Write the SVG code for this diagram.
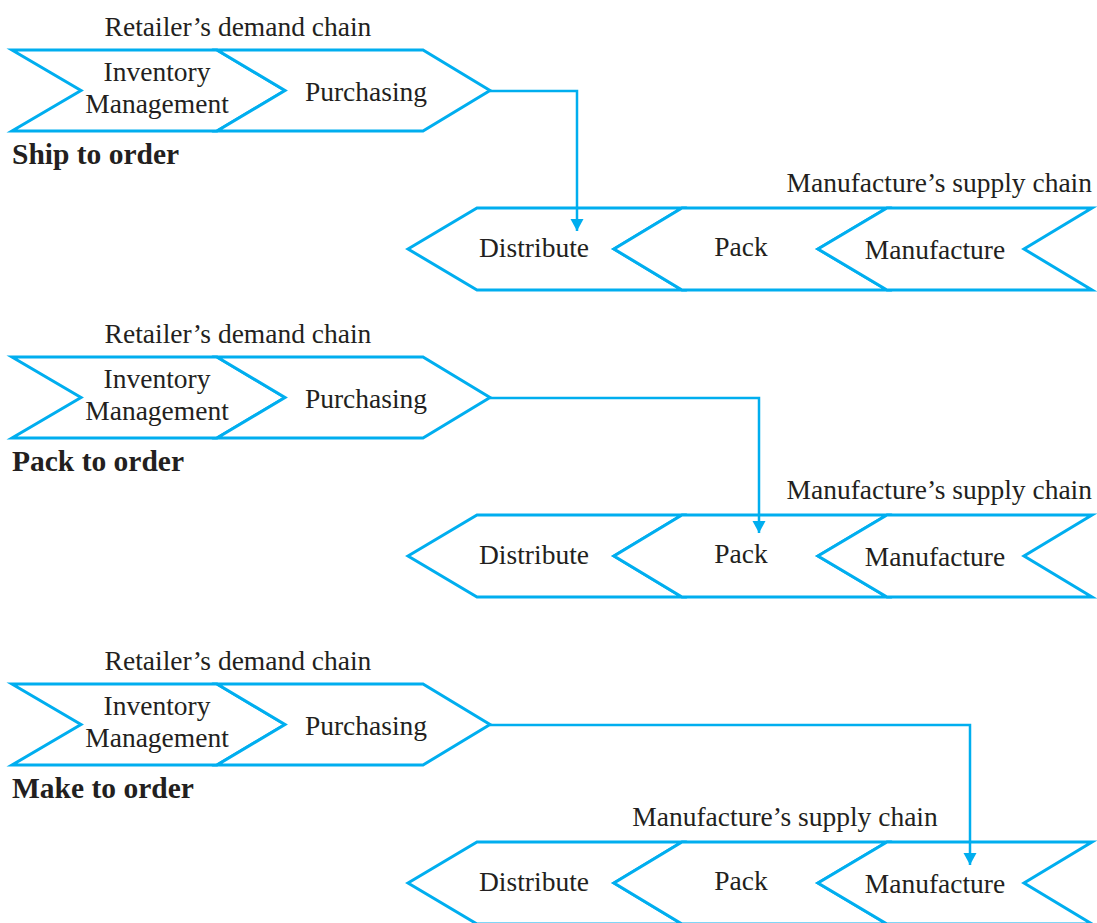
<svg xmlns="http://www.w3.org/2000/svg" width="1097" height="923" viewBox="0 0 1097 923">
  <style>
    .chev { fill: #ffffff; stroke: #00aeef; stroke-width: 3; stroke-linejoin: miter; }
    .lbl { font-family: "Liberation Serif", "Times New Roman", serif; font-size: 27.5px; fill: #231f20; text-anchor: middle; }
    .cap { font-family: "Liberation Serif", "Times New Roman", serif; font-size: 27.5px; fill: #231f20; }
    .title { font-family: "Liberation Serif", "Times New Roman", serif; font-size: 29.5px; font-weight: bold; fill: #231f20; }
    .link { fill: none; stroke: #00aeef; stroke-width: 2.5; }
  </style>
  <defs>
    <marker id="arrow" markerUnits="userSpaceOnUse" markerWidth="14" markerHeight="14" refX="12" refY="6.5" orient="auto">
      <path d="M0,0 L12,6.5 L0,13 z" fill="#00aeef"/>
    </marker>
  </defs>

  <rect width="1097" height="923" fill="#ffffff"/>

  <!-- Panel 1: ship to order -->
  <g id="panel-ship">
    <text class="cap" x="238" y="36" text-anchor="middle">Retailer’s demand chain</text>
    <g id="ship-inventory">
      <polygon class="chev" points="12,50 217,50 285,90.5 217,131 12,131 81,90.5"/>
      <text class="lbl" x="157" y="81">Inventory</text>
      <text class="lbl" x="157" y="113">Management</text>
    </g>
    <g id="ship-purchasing">
      <polygon class="chev" points="217,50 423,50 490,90.5 423,131 217,131 285,90.5"/>
      <text class="lbl" x="366" y="101">Purchasing</text>
    </g>
    <text class="title" x="12" y="164">Ship to order</text>
    <text class="cap" x="1092" y="192" text-anchor="end">Manufacture’s supply chain</text>
    <g id="ship-distribute">
      <polygon class="chev" points="408,249 477,208 682,208 614,249 682,290 477,290"/>
      <text class="lbl" x="534" y="257">Distribute</text>
    </g>
    <g id="ship-pack">
      <polygon class="chev" points="614,249 682,208 887,208 818,249 887,290 682,290"/>
      <text class="lbl" x="741" y="256">Pack</text>
    </g>
    <g id="ship-manufacture">
      <polygon class="chev" points="818,249 887,208 1092,208 1024,249 1092,290 887,290"/>
      <text class="lbl" x="935" y="259">Manufacture</text>
    </g>
  </g>

  <!-- Panel 2: pack to order -->
  <g id="panel-pack" transform="translate(0,307)">
    <text class="cap" x="238" y="36" text-anchor="middle">Retailer’s demand chain</text>
    <g id="pack-inventory">
      <polygon class="chev" points="12,50 217,50 285,90.5 217,131 12,131 81,90.5"/>
      <text class="lbl" x="157" y="81">Inventory</text>
      <text class="lbl" x="157" y="113">Management</text>
    </g>
    <g id="pack-purchasing">
      <polygon class="chev" points="217,50 423,50 490,90.5 423,131 217,131 285,90.5"/>
      <text class="lbl" x="366" y="101">Purchasing</text>
    </g>
    <text class="title" x="12" y="164">Pack to order</text>
    <text class="cap" x="1092" y="192" text-anchor="end">Manufacture’s supply chain</text>
    <g id="pack-distribute">
      <polygon class="chev" points="408,249 477,208 682,208 614,249 682,290 477,290"/>
      <text class="lbl" x="534" y="257">Distribute</text>
    </g>
    <g id="pack-pack">
      <polygon class="chev" points="614,249 682,208 887,208 818,249 887,290 682,290"/>
      <text class="lbl" x="741" y="256">Pack</text>
    </g>
    <g id="pack-manufacture">
      <polygon class="chev" points="818,249 887,208 1092,208 1024,249 1092,290 887,290"/>
      <text class="lbl" x="935" y="259">Manufacture</text>
    </g>
  </g>

  <!-- Panel 3: make to order -->
  <g id="panel-make" transform="translate(0,634)">
    <text class="cap" x="238" y="36" text-anchor="middle">Retailer’s demand chain</text>
    <g id="make-inventory">
      <polygon class="chev" points="12,50 217,50 285,90.5 217,131 12,131 81,90.5"/>
      <text class="lbl" x="157" y="81">Inventory</text>
      <text class="lbl" x="157" y="113">Management</text>
    </g>
    <g id="make-purchasing">
      <polygon class="chev" points="217,50 423,50 490,90.5 423,131 217,131 285,90.5"/>
      <text class="lbl" x="366" y="101">Purchasing</text>
    </g>
    <text class="title" x="12" y="164">Make to order</text>
    <text class="cap" x="785" y="192" text-anchor="middle">Manufacture’s supply chain</text>
    <g id="make-distribute">
      <polygon class="chev" points="408,249 477,208 682,208 614,249 682,290 477,290"/>
      <text class="lbl" x="534" y="257">Distribute</text>
    </g>
    <g id="make-pack">
      <polygon class="chev" points="614,249 682,208 887,208 818,249 887,290 682,290"/>
      <text class="lbl" x="741" y="256">Pack</text>
    </g>
    <g id="make-manufacture">
      <polygon class="chev" points="818,249 887,208 1092,208 1024,249 1092,290 887,290"/>
      <text class="lbl" x="935" y="259">Manufacture</text>
    </g>
  </g>

  <!-- Order flow from purchasing into the supply chain -->
  <g id="connectors">
    <path class="link" d="M490,91 H577 V231" marker-end="url(#arrow)"/>
    <path class="link" d="M490,398 H759 V533" marker-end="url(#arrow)"/>
    <path class="link" d="M490,725 H970 V865" marker-end="url(#arrow)"/>
  </g>
</svg>
